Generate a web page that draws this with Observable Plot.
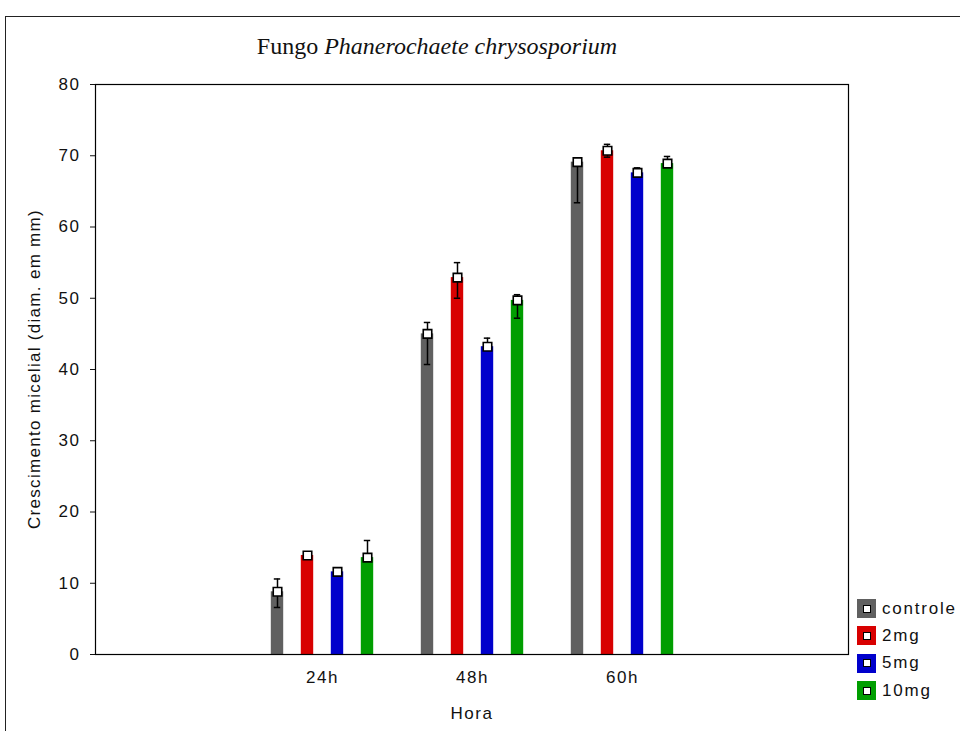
<!DOCTYPE html>
<html>
<head>
<meta charset="utf-8">
<script src="https://cdn.jsdelivr.net/npm/d3@7"></script>
<script src="https://cdn.jsdelivr.net/npm/@observablehq/plot@0.6"></script>
<style>
  html, body { margin: 0; padding: 0; background: #fff; }
  #wrap { position: relative; width: 960px; height: 731px; overflow: hidden; font-family: Arial, "Liberation Sans", sans-serif; }
  #border { position: absolute; left: 5px; top: 16px; right: -10px; bottom: -10px; border-top: 1.5px solid #222; border-left: 1.5px solid #222; }
  #title { position: absolute; left: 0; width: 874px; top: 33px; text-align: center; font-family: "Liberation Serif", "Times New Roman", serif; font-size: 24px; color: #111; white-space: nowrap; }
  #chart { position: absolute; left: 0; top: 0; }
  #ylabel { position: absolute; left: 35px; top: 369px; transform: translate(-50%, -50%) rotate(-90deg); white-space: nowrap; font-size: 17px; letter-spacing: 1.3px; color: #111; }
  #legend { position: absolute; left: 857px; top: 595px; }
  .row { display: flex; align-items: center; height: 27.3px; }
  .sw { width: 19px; height: 19px; position: relative; margin-right: 6px; }
  .sw::after { content: ""; position: absolute; left: 5.5px; top: 5.5px; width: 6px; height: 6px; background: #fff; border: 1px solid #000; }
  .lab { font-size: 17px; letter-spacing: 1.8px; color: #111; }
</style>
</head>
<body>
<div id="wrap">
  <div id="border"></div>
  <div id="chart"></div>
  <div id="title">Fungo <i>Phanerochaete chrysosporium</i></div>
  <div id="ylabel"></div>
  <div id="legend"></div>
</div>
<script>
// ---- data ----
const times = ["24h", "48h", "60h"];
const series = ["controle", "2mg", "5mg", "10mg"];
const seriesColors = ["#606060", "#d80000", "#0000cc", "#009e00"];
const yTicks = [0, 10, 20, 30, 40, 50, 60, 70, 80];
const xLabel = "Hora";
const yLabel = "Crescimento micelial (diam. em mm)";

const controleMean = [8.8, 45.0, 69.1];
const controleLow  = [6.6, 40.7, 63.4];
const controleHigh = [10.6, 46.6, 69.1];

const mg2Mean = [13.9, 52.9, 70.7];
const mg2Low  = [13.9, 50.0, 69.8];
const mg2High = [13.9, 55.0, 71.6];

const mg5Mean = [11.6, 43.2, 67.6];
const mg5Low  = [11.6, 43.2, 67.6];
const mg5High = [11.6, 44.4, 68.3];

const mg10Mean = [13.6, 49.7, 68.9];
const mg10Low  = [13.6, 47.2, 68.9];
const mg10High = [16.0, 50.5, 69.9];

const means = [controleMean, mg2Mean, mg5Mean, mg10Mean];
const lows = [controleLow, mg2Low, mg5Low, mg10Low];
const highs = [controleHigh, mg2High, mg5High, mg10High];

const rows = [];
series.forEach((s, si) => times.forEach((t, ti) => rows.push({
  series: s, time: t, value: means[si][ti], lo: lows[si][ti], hi: highs[si][ti]
})));

// x band domain with empty bands on both sides
const xDomain = ["_pad0", ...times, "_pad1"];

const W = 960, H = 731, mL = 95, mR = 112, mT = 84, mB = 77;
const band = (W - mL - mR) / xDomain.length;
const barW = 13, capW = 7, step = 30;
const barInset = (band - barW) / 2;
const capInset = (band - capW) / 2;

const marks = [];
series.forEach((s, si) => {
  const data = rows.filter(d => d.series === s);
  const dx = (si - 1.5) * step;
  marks.push(Plot.barY(data, {x: "time", y: "value", fill: "series", dx, insetLeft: barInset, insetRight: barInset}));
});
series.forEach((s, si) => {
  const data = rows.filter(d => d.series === s);
  const dx = (si - 1.5) * step;
  marks.push(Plot.ruleX(data, {x: "time", y1: "lo", y2: "hi", dx, stroke: "#000", strokeWidth: 1.5}));
  marks.push(Plot.tickY(data, {x: "time", y: "lo", dx, stroke: "#000", strokeWidth: 1.5, insetLeft: capInset, insetRight: capInset}));
  marks.push(Plot.tickY(data, {x: "time", y: "hi", dx, stroke: "#000", strokeWidth: 1.5, insetLeft: capInset, insetRight: capInset}));
  marks.push(Plot.dot(data, {x: "time", y: "value", dx: dx, symbol: "square", r: 4.8, fill: "#fff", stroke: "#000", strokeWidth: 1.6}));
});
marks.push(Plot.frame({stroke: "#000", strokeWidth: 1.2}));

const chart = Plot.plot({
  width: W, height: H,
  marginLeft: mL, marginRight: mR, marginTop: mT, marginBottom: mB,
  style: {fontFamily: "Arial, 'Liberation Sans', sans-serif", fontSize: "17px", color: "#111", background: "transparent", letterSpacing: "1.5px"},
  x: {
    type: "band", domain: xDomain, padding: 0,
    tickSize: 0, tickPadding: 16,
    tickFormat: d => d.startsWith("_") ? "" : d,
    label: xLabel, labelAnchor: "center", labelOffset: 64
  },
  y: {
    domain: [0, 80], ticks: yTicks, tickSize: 5, tickPadding: 10,
    label: null
  },
  color: {domain: series, range: seriesColors},
  marks
});
document.getElementById("chart").appendChild(chart);
document.getElementById("ylabel").textContent = yLabel;

// legend
const leg = document.getElementById("legend");
series.forEach((s, i) => {
  const row = document.createElement("div");
  row.className = "row";
  const sw = document.createElement("div");
  sw.className = "sw";
  sw.style.background = seriesColors[i];
  const lab = document.createElement("span");
  lab.className = "lab";
  lab.textContent = s;
  row.appendChild(sw); row.appendChild(lab);
  leg.appendChild(row);
});
</script>
</body>
</html>
